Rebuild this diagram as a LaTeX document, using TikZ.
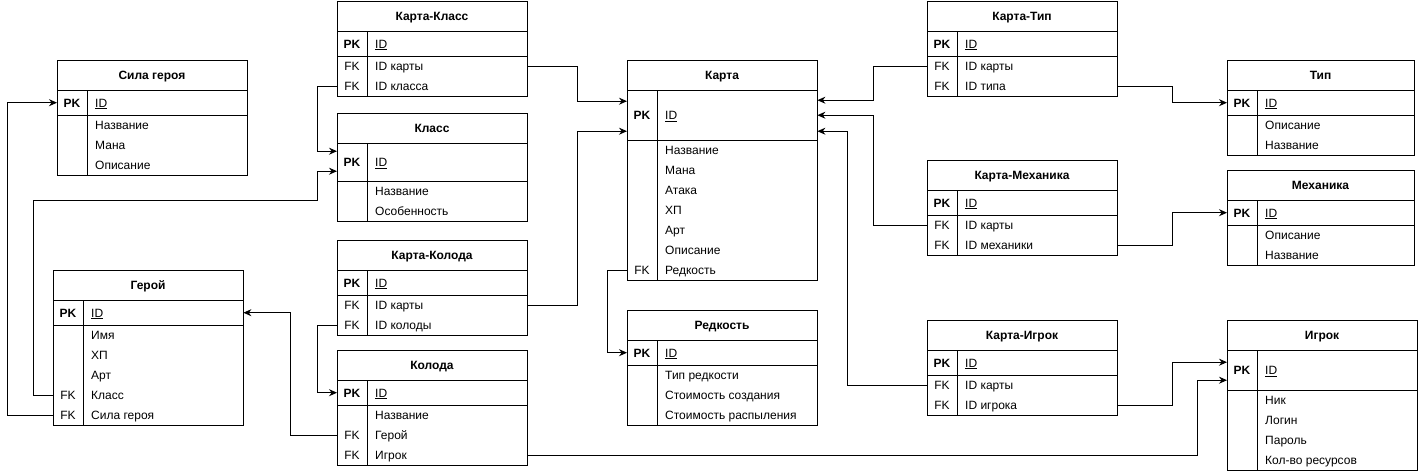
\documentclass[tikz,border=0pt]{standalone}
\usepackage{fontspec}
\setmainfont{Liberation Sans}
\usetikzlibrary{arrows.meta,calc}
\tikzset{
  tframe/.style={draw, line width=1pt, anchor=north west, inner sep=0pt},
  ttitle/.style={font=\bfseries\fontsize{12}{14}\selectfont, inner sep=0pt, anchor=base},
  tkey/.style={font=\fontsize{12}{14}\selectfont, inner sep=0pt, anchor=base},
  tfield/.style={font=\fontsize{12}{14}\selectfont, inner sep=0pt, anchor=base west},
  rowslot/.style={minimum height=20pt, inner sep=0pt, anchor=north west},
  tline/.style={line width=1pt},
  link/.style={line width=1pt, -{Stealth[length=8pt,width=7pt]}},
}
\newcommand\ertbl[6]{% name, x, y, w, title, pk height
  \pgfmathsetmacro\curx{#2}%
  \pgfmathsetmacro\cury{#3+30+#6}%
  \def\curw{#4}%
  \def\curname{#1}%
  \node[ttitle] (#1-t) at ({#2+#4/2},{#3+19.5}) {#5};
  \draw[tline] (#2,{#3+30}) -- ++(#4,0);
  \draw[tline] (#2,{#3+30+#6}) -- ++(#4,0);
  \node[rowslot, minimum width=#4pt, minimum height=#6pt] (#1-pk) at (#2,{#3+30}) {};
  \node[tkey, font=\bfseries\fontsize{12}{14}\selectfont] at ({#2+15},{#3+30+#6/2+4.5}) {PK};
  \node[tfield] at ({#2+38},{#3+30+#6/2+4.5}) {\underline{ID}};
}
\newcommand\errow[3]{% k, key, text
  \node[rowslot, minimum width=\curw pt] (\curname-r#1) at (\curx,{\cury+20*(#1-1)}) {};
  \node[tkey] at ({\curx+15},{\cury+20*#1-5.5}) {#2};
  \node[tfield] at ({\curx+38},{\cury+20*#1-5.5}) {#3};
}
\newcommand\erclose[4]{% name, x, y, bottom y ; w from \curw
  \node[tframe, minimum width=\curw pt, minimum height={(#4-#3)*1pt}] (#1) at (#2,#3) {};
  \draw[tline] ({#2+30},{#3+30}) -- ({#2+30},#4);
}
\begin{document}
\begin{tikzpicture}[x=1pt,y=-1pt]
\useasboundingbox (0,0) rectangle (1418,472);

% Сила героя
\ertbl{sila}{57}{60}{190}{Сила героя}{25}
\errow{1}{}{Название}
\errow{2}{}{Мана}
\errow{3}{}{Описание}
\erclose{silabox}{57}{60}{175}

% Карта-Класс
\ertbl{kk}{337}{1}{190}{Карта-Класс}{25}
\errow{1}{FK}{ID карты}
\errow{2}{FK}{ID класса}
\erclose{kkbox}{337}{1}{96}

% Класс
\ertbl{klass}{337}{113}{190}{Класс}{38}
\errow{1}{}{Название}
\errow{2}{}{Особенность}
\erclose{klassbox}{337}{113}{221}

% Карта-Колода
\ertbl{kkol}{337}{240}{190}{Карта-Колода}{25}
\errow{1}{FK}{ID карты}
\errow{2}{FK}{ID колоды}
\erclose{kkolbox}{337}{240}{335}

% Колода
\ertbl{koloda}{337}{350}{190}{Колода}{25}
\errow{1}{}{Название}
\errow{2}{FK}{Герой}
\errow{3}{FK}{Игрок}
\erclose{kolodabox}{337}{350}{465}

% Герой
\ertbl{geroy}{53}{270}{190}{Герой}{25}
\errow{1}{}{Имя}
\errow{2}{}{ХП}
\errow{3}{}{Арт}
\errow{4}{FK}{Класс}
\errow{5}{FK}{Сила героя}
\erclose{geroybox}{53}{270}{425}

% Карта
\ertbl{karta}{627}{60}{190}{Карта}{50}
\errow{1}{}{Название}
\errow{2}{}{Мана}
\errow{3}{}{Атака}
\errow{4}{}{ХП}
\errow{5}{}{Арт}
\errow{6}{}{Описание}
\errow{7}{FK}{Редкость}
\erclose{kartabox}{627}{60}{280}

% Редкость
\ertbl{redk}{627}{310}{190}{Редкость}{25}
\errow{1}{}{Тип редкости}
\errow{2}{}{Стоимость создания}
\errow{3}{}{Стоимость распыления}
\erclose{redkbox}{627}{310}{425}

% Карта-Тип
\ertbl{kt}{927}{1}{190}{Карта-Тип}{25}
\errow{1}{FK}{ID карты}
\errow{2}{FK}{ID типа}
\erclose{ktbox}{927}{1}{96}

% Тип
\ertbl{tip}{1227}{60}{187}{Тип}{25}
\errow{1}{}{Описание}
\errow{2}{}{Название}
\erclose{tipbox}{1227}{60}{155}

% Карта-Механика
\ertbl{km}{927}{160}{190}{Карта-Механика}{25}
\errow{1}{FK}{ID карты}
\errow{2}{FK}{ID механики}
\erclose{kmbox}{927}{160}{255}

% Механика
\ertbl{mech}{1227}{170}{187}{Механика}{25}
\errow{1}{}{Описание}
\errow{2}{}{Название}
\erclose{mechbox}{1227}{170}{265}

% Карта-Игрок
\ertbl{ki}{927}{320}{190}{Карта-Игрок}{25}
\errow{1}{FK}{ID карты}
\errow{2}{FK}{ID игрока}
\erclose{kibox}{927}{320}{415}

% Игрок
\ertbl{igrok}{1227}{320}{190}{Игрок}{40}
\errow{1}{}{Ник}
\errow{2}{}{Логин}
\errow{3}{}{Пароль}
\errow{4}{}{Кол-во ресурсов}
\erclose{igrokbox}{1227}{320}{470}

% Connectors
\draw[link] (kk-r1.east) -- ++(50,0) |- ([yshift=14pt]karta-pk.west);
\draw[link] (kk-r2.west) -- ++(-20,0) |- ([yshift=11pt]klass-pk.west);
\draw[link] (kkol-r1.east) -- ++(50,0) |- ([yshift=-16pt]karta-pk.west);
\draw[link] (kkol-r2.west) -- ++(-20,0) |- (koloda-pk.west);
\draw[link] (geroy-r4.west) -- ++(-20,0) -- ++(0,-195) -| ([xshift=-20pt,yshift=-9pt]klass-pk.west) -- ([yshift=-9pt]klass-pk.west);
\draw[link] (geroy-r5.west) -- ++(-46,0) |- (sila-pk.west);
\draw[link] (koloda-r2.west) -- ++(-47,0) |- (geroy-pk.east);
\draw[link] (koloda-r3.east) -- ++(670,0) |- ([yshift=-10pt]igrok-pk.west);
\draw[link] (karta-r7.west) -- ++(-20,0) |- (redk-pk.west);
\draw[link] (kt-r1.west) -- ++(-54,0) |- ([yshift=15pt]karta-pk.east);
\draw[link] (km-r1.west) -- ++(-54,0) |- (karta-pk.east);
\draw[link] (ki-r1.west) -- ++(-80,0) |- ([yshift=-16pt]karta-pk.east);
\draw[link] (kt-r2.east) -- ++(55,0) |- (tip-pk.west);
\draw[link] (km-r2.east) -- ++(55,0) |- (mech-pk.west);
\draw[link] (ki-r2.east) -- ++(55,0) |- ([yshift=8pt]igrok-pk.west);
\end{tikzpicture}
\end{document}
